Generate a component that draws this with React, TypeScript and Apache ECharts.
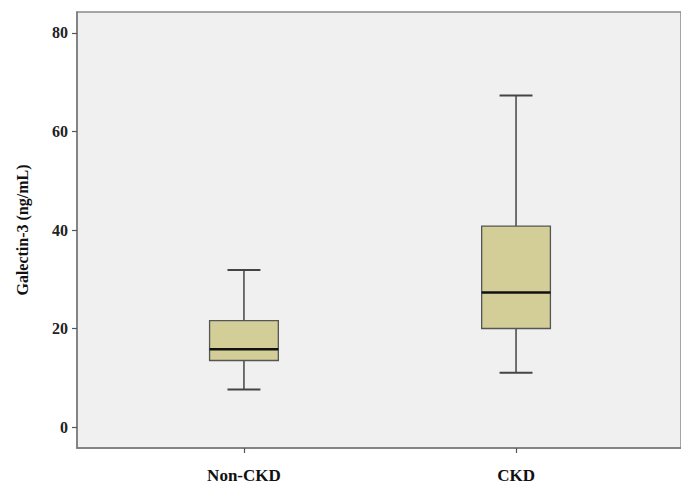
import React, { useEffect, useRef } from "react";
import * as echarts from "echarts";

const categories = ["Non-CKD", "CKD"];
// [min, q1, median, q3, max]
const boxStats = [
  [7.6, 13.5, 15.8, 21.6, 31.9],
  [11.0, 20.0, 27.3, 40.8, 67.3],
];
const yTicks = [0, 20, 40, 60, 80];
const yTitle = "Galectin-3 (ng/mL)";

const FONT = "'Liberation Serif', 'Times New Roman', serif";

export default function App() {
  const ref = useRef<HTMLDivElement>(null);
  useEffect(() => {
    if (!ref.current) return;
    const chart = echarts.init(ref.current, null, { renderer: "svg" });
    const data = boxStats.map((s, i) => [i, ...s]);
    chart.setOption({
      animation: false,
      backgroundColor: "#ffffff",
      grid: {
        left: 77,
        right: -2,
        top: 12,
        bottom: 39,
        show: true,
        backgroundColor: "#f0f0f0",
        borderColor: "#8a8a8a",
        borderWidth: 1.5,
      },
      xAxis: {
        type: "value",
        min: -0.6136,
        max: 1.6063,
        splitLine: { show: false },
        axisLine: { show: true, onZero: false, lineStyle: { color: "#7a7a7a", width: 1.5 } },
        axisTick: {
          show: true,
          customValues: [0, 1],
          length: 5,
          lineStyle: { color: "#555", width: 1.2 },
        },
        axisLabel: {
          customValues: [0, 1],
          formatter: (v: number) => categories[Math.round(v)] ?? "",
          margin: 19,
          fontFamily: FONT,
          fontWeight: "bold",
          fontSize: 17,
          color: "#111",
        },
      },
      yAxis: {
        type: "value",
        min: -4.26,
        max: 84.26,
        name: yTitle,
        nameLocation: "middle",
        nameGap: 47,
        nameTextStyle: {
          fontFamily: FONT,
          fontWeight: "bold",
          fontSize: 16,
          color: "#111",
        },
        splitLine: { show: false },
        axisLine: { show: true, onZero: false, lineStyle: { color: "#7a7a7a", width: 1.5 } },
        axisTick: {
          show: true,
          customValues: yTicks,
          length: 5,
          lineStyle: { color: "#555", width: 1.2 },
        },
        axisLabel: {
          customValues: yTicks,
          margin: 9,
          fontFamily: FONT,
          fontWeight: "bold",
          fontSize: 16,
          color: "#222",
        },
      },
      series: [
        {
          type: "custom",
          data,
          renderItem: (params: any, api: any) => {
            const x = api.value(0);
            const mn = api.coord([x, api.value(1)]);
            const q1 = api.coord([x, api.value(2)]);
            const md = api.coord([x, api.value(3)]);
            const q3 = api.coord([x, api.value(4)]);
            const mx = api.coord([x, api.value(5)]);
            const boxW = api.size([0.2527, 0])[0];
            const capW = api.size([0.121, 0])[0];
            const cx = mn[0];
            const lineStyle = { stroke: "#444", lineWidth: 1.5 };
            return {
              type: "group",
              children: [
                { type: "line", shape: { x1: cx, y1: mx[1], x2: cx, y2: q3[1] }, style: lineStyle },
                { type: "line", shape: { x1: cx, y1: q1[1], x2: cx, y2: mn[1] }, style: lineStyle },
                { type: "line", shape: { x1: cx - capW / 2, y1: mx[1], x2: cx + capW / 2, y2: mx[1] }, style: { stroke: "#444", lineWidth: 2 } },
                { type: "line", shape: { x1: cx - capW / 2, y1: mn[1], x2: cx + capW / 2, y2: mn[1] }, style: { stroke: "#444", lineWidth: 2 } },
                {
                  type: "rect",
                  shape: { x: cx - boxW / 2, y: q3[1], width: boxW, height: q1[1] - q3[1] },
                  style: { fill: "#d3ce97", stroke: "#555", lineWidth: 1.3 },
                },
                { type: "line", shape: { x1: cx - boxW / 2, y1: md[1], x2: cx + boxW / 2, y2: md[1] }, style: { stroke: "#111", lineWidth: 2.5 } },
              ],
            };
          },
        },
      ],
    });
    return () => chart.dispose();
  }, []);
  return (
    <div
      ref={ref}
      style={{ position: "fixed", left: 0, top: 0, width: 681, height: 487 }}
    />
  );
}
